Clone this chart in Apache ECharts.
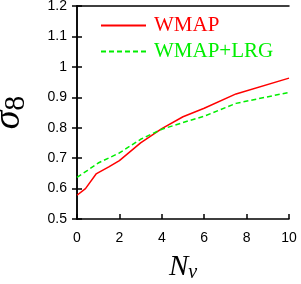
<!DOCTYPE html>
<html><head><meta charset="utf-8">
<script src="https://cdn.jsdelivr.net/npm/echarts@6/dist/echarts.min.js"></script>
<style>html,body{margin:0;padding:0;background:#fff}#c{width:301px;height:284px}</style>
</head><body><div id="c"></div>
<script>
var nuRed = [0, 0.4, 0.9, 1.5, 2, 3, 4, 5, 6, 7.5, 10];
var sigmaRed = [0.578, 0.600, 0.648, 0.671, 0.692, 0.750, 0.797, 0.836, 0.864, 0.911, 0.963];
var nuGreen = [0, 0.5, 1, 2, 3, 4, 5, 6, 7.5, 10];
var sigmaGreen = [0.637, 0.660, 0.684, 0.717, 0.762, 0.795, 0.817, 0.838, 0.880, 0.916];
var xTicks = [0, 2, 4, 6, 8, 10];
var yTicks = [0.5, 0.6, 0.7, 0.8, 0.9, 1.0, 1.1, 1.2];

function pairs(xs, ys){ return xs.map(function(x,i){return [x, ys[i]];}); }

var chart = echarts.init(document.getElementById('c'), null, {renderer:'canvas'});
var axisLine = {show:true, lineStyle:{color:'#000', width:1.5}};
var tick = {show:true, inside:true, length:5, lineStyle:{color:'#000', width:1.5}};
var lab = {color:'#000', fontFamily:'Liberation Sans', fontSize:14};
chart.setOption({
  animation:false,
  grid:{left:77, right:12, top:6, bottom:65, containLabel:false, outerBoundsMode:'none'},
  legend:{
    orient:'vertical', left:95, top:10, itemWidth:45, itemHeight:21, itemGap:5,
    itemStyle:{opacity:0},
    data:[
      {name:'WMAP', textStyle:{color:'#ff0000'}},
      {name:'WMAP+LRG', textStyle:{color:'#00ee00'}}
    ],
    textStyle:{fontFamily:'Liberation Serif', fontSize:21, padding:[0,0,0,3]}
  },
  xAxis:[
    {type:'value', min:0, max:10, interval:2, position:'bottom',
     axisLine:axisLine, axisTick:tick, splitLine:{show:false},
     axisLabel:Object.assign({margin:12, formatter:function(v){return xTicks.indexOf(v)>=0?String(v):'';}}, lab),
     name:'{n|N}{s|ν}', nameLocation:'middle', nameGap:32,
     nameTextStyle:{rich:{n:{fontFamily:'Liberation Serif', fontStyle:'italic', fontSize:29, color:'#000'},
                          s:{fontFamily:'Liberation Serif', fontStyle:'italic', fontSize:20, color:'#000', padding:[12,0,0,0]}}}},
    {type:'value', min:0, max:10, interval:2, position:'top',
     axisLine:axisLine, axisTick:{show:false}, axisLabel:{show:false}, splitLine:{show:false}}
  ],
  yAxis:[
    {type:'value', min:0.5, max:1.2, interval:0.1, position:'left',
     axisLine:axisLine, axisTick:tick, splitLine:{show:false},
     axisLabel:Object.assign({margin:10, formatter:function(v){var r=Math.round(v*10)/10; return r===1?'1':r.toFixed(1);}}, lab),
     name:'{n|σ}{s|8}', nameLocation:'middle', nameGap:46, nameRotate:90,
     nameTextStyle:{rich:{n:{fontFamily:'Liberation Serif', fontStyle:'italic', fontSize:38, color:'#000'},
                          s:{fontFamily:'Liberation Serif', fontSize:30, color:'#000', padding:[14,0,0,0]}}}},
    {type:'value', min:0.5, max:1.2, interval:0.1, position:'right',
     axisLine:axisLine, axisTick:tick, axisLabel:{show:false}, splitLine:{show:false}}
  ],
  series:[
    {name:'WMAP', type:'line', data:pairs(nuRed, sigmaRed), symbol:'none', smooth:false,
     lineStyle:{color:'#ff0000', width:1.5}, itemStyle:{color:'#ff0000'}},
    {name:'WMAP+LRG', type:'line', data:pairs(nuGreen, sigmaGreen), symbol:'none', smooth:false,
     lineStyle:{color:'#00ee00', width:1.5, type:[5,3]}, itemStyle:{color:'#00ee00'}}
  ]
});
</script></body></html>
